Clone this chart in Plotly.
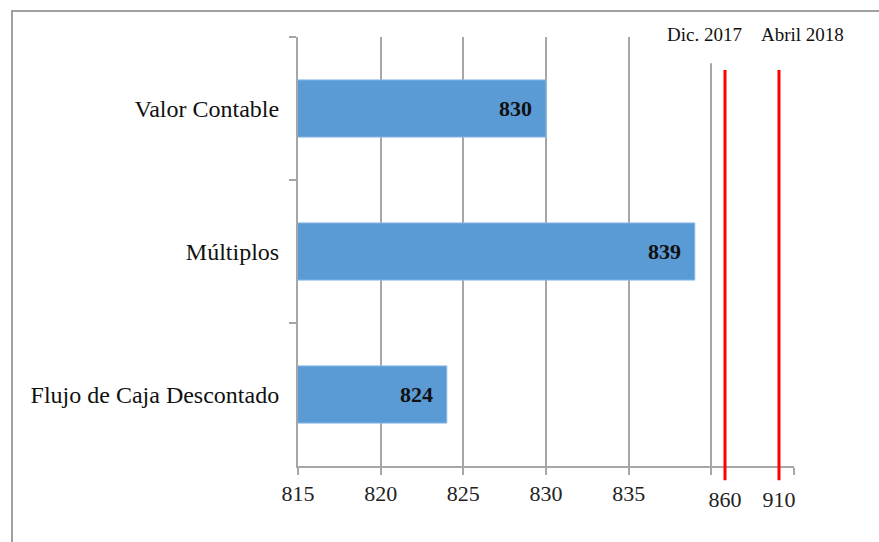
import plotly.graph_objects as go

# Valuation methods and their results
categories = ["Valor Contable", "Múltiplos", "Flujo de Caja Descontado"]
values = [830, 839, 824]

# Market reference prices drawn as vertical lines on a compressed scale
ref_labels = ["Dic. 2017", "Abril 2018"]
ref_values = [860, 910]

main_ticks = [815, 820, 825, 830, 835, 840, 845]
main_ticktext = ["815", "820", "825", "830", "835", "", ""]

FONT = "Liberation Serif"
GRID = "#a6a6a6"
BAR = "#5b9bd5"

fig = go.Figure()

fig.add_trace(go.Bar(
    x=values,
    y=categories,
    orientation="h",
    width=0.4,
    marker=dict(color=BAR, line=dict(color="#8cbbe6", width=1)),
    hoverinfo="x+y",
    xaxis="x",
    yaxis="y",
))

# invisible helper trace so the secondary axis is drawn
fig.add_trace(go.Scatter(
    x=ref_values, y=[categories[0]] * len(ref_values),
    mode="markers", marker=dict(opacity=0), showlegend=False,
    hoverinfo="skip", xaxis="x2", yaxis="y",
))

annotations = []
for cat, val in zip(categories, values):
    annotations.append(dict(
        x=val, y=cat, xref="x", yref="y",
        text=f"<b>{val}</b>", showarrow=False,
        xanchor="right", yanchor="middle", xshift=-12,
        font=dict(family=FONT, size=22, color="#111111"),
    ))

shapes = []
# outer frame
shapes.append(dict(
    type="rect", xref="paper", yref="paper",
    x0=-0.5766, x1=1.2, y0=-0.25, y1=1.0606,
    line=dict(color="#a0a0a0", width=2), fillcolor="rgba(0,0,0,0)",
    layer="below",
))
# white band under the date captions
shapes.append(dict(
    type="rect", xref="paper", yref="paper",
    x0=0.80, x1=1.03, y0=0.939, y1=1.01,
    line=dict(width=0), fillcolor="white", layer="above",
))
for lab, val, shift in zip(ref_labels, ref_values, [-20, 24]):
    shapes.append(dict(
        type="line", xref="x2", yref="paper",
        x0=val, x1=val, y0=-0.033, y1=0.923,
        line=dict(color="#ff0000", width=3), layer="above",
    ))
    annotations.append(dict(
        x=val, y=1.0047, xref="x2", yref="paper",
        text=lab, showarrow=False, xanchor="center", yanchor="middle",
        xshift=shift,
        font=dict(family=FONT, size=19, color="#111111"),
    ))

fig.update_layout(
    width=879, height=542,
    margin=dict(l=298, r=85, t=37, b=76),
    paper_bgcolor="white", plot_bgcolor="white",
    showlegend=False,
    bargap=0.6,
    xaxis=dict(
        range=[815, 845],
        tickmode="array", tickvals=main_ticks, ticktext=main_ticktext,
        showgrid=True, gridcolor=GRID, gridwidth=2,
        showline=True, linecolor=GRID, linewidth=2,
        ticks="outside", ticklen=7, tickcolor=GRID, tickwidth=2,
        tickfont=dict(family=FONT, size=22, color="#222222"),
        zeroline=False, fixedrange=True,
    ),
    xaxis2=dict(
        overlaying="x", anchor="y", side="bottom",
        range=[464.6, 923.9],
        tickmode="array", tickvals=ref_values,
        ticktext=[str(v) for v in ref_values],
        showgrid=False, showline=False, zeroline=False,
        ticks="", ticklabelstandoff=18,
        tickfont=dict(family=FONT, size=22, color="#222222"),
        fixedrange=True,
    ),
    yaxis=dict(
        categoryorder="array", categoryarray=categories,
        range=[2.5, -0.5],
        showgrid=False,
        showline=True, linecolor=GRID, linewidth=2,
        ticks="outside", ticklen=7, tickcolor=GRID, tickwidth=2,
        tickson="boundaries", ticklabelstandoff=12,
        tickfont=dict(family=FONT, size=24, color="#111111"),
        zeroline=False, fixedrange=True,
    ),
    annotations=annotations,
    shapes=shapes,
)

fig.write_html("out.html")
